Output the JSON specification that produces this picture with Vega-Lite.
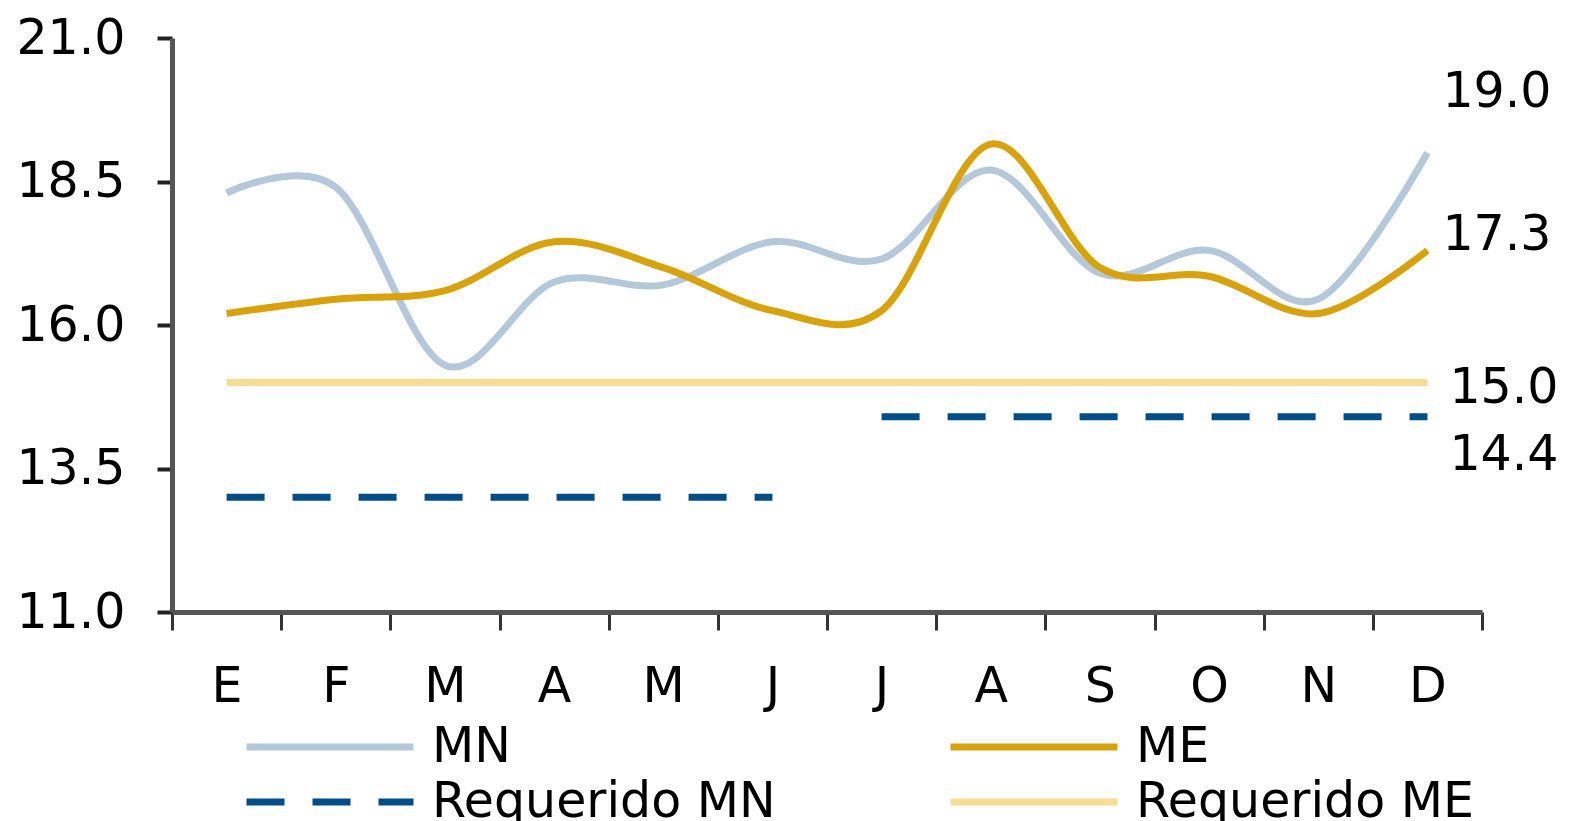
{
  "$schema": "https://vega.github.io/schema/vega-lite/v6.json",
  "width": 1310,
  "height": 574,
  "autosize": {"type": "none"},
  "padding": {"left": 172, "top": 38, "right": 91, "bottom": 209},
  "background": "white",
  "config": {
    "view": {"stroke": null},
    "font": "DejaVu Sans"
  },
  "data": {
    "values": [
      {"mes": "Ene", "serie": "MN", "valor": 18.3, "tramo": "a"},
      {"mes": "Feb", "serie": "MN", "valor": 18.4, "tramo": "a"},
      {"mes": "Mar", "serie": "MN", "valor": 15.3, "tramo": "a"},
      {"mes": "Abr", "serie": "MN", "valor": 16.75, "tramo": "a"},
      {"mes": "May", "serie": "MN", "valor": 16.7, "tramo": "a"},
      {"mes": "Jun", "serie": "MN", "valor": 17.45, "tramo": "a"},
      {"mes": "Jul", "serie": "MN", "valor": 17.15, "tramo": "a"},
      {"mes": "Ago", "serie": "MN", "valor": 18.7, "tramo": "a"},
      {"mes": "Sep", "serie": "MN", "valor": 16.9, "tramo": "a"},
      {"mes": "Oct", "serie": "MN", "valor": 17.3, "tramo": "a"},
      {"mes": "Nov", "serie": "MN", "valor": 16.45, "tramo": "a"},
      {"mes": "Dic", "serie": "MN", "valor": 19.0, "tramo": "a"},
      {"mes": "Ene", "serie": "ME", "valor": 16.2, "tramo": "a"},
      {"mes": "Feb", "serie": "ME", "valor": 16.45, "tramo": "a"},
      {"mes": "Mar", "serie": "ME", "valor": 16.6, "tramo": "a"},
      {"mes": "Abr", "serie": "ME", "valor": 17.45, "tramo": "a"},
      {"mes": "May", "serie": "ME", "valor": 17.0, "tramo": "a"},
      {"mes": "Jun", "serie": "ME", "valor": 16.25, "tramo": "a"},
      {"mes": "Jul", "serie": "ME", "valor": 16.25, "tramo": "a"},
      {"mes": "Ago", "serie": "ME", "valor": 19.15, "tramo": "a"},
      {"mes": "Sep", "serie": "ME", "valor": 17.0, "tramo": "a"},
      {"mes": "Oct", "serie": "ME", "valor": 16.85, "tramo": "a"},
      {"mes": "Nov", "serie": "ME", "valor": 16.2, "tramo": "a"},
      {"mes": "Dic", "serie": "ME", "valor": 17.3, "tramo": "a"},
      {"mes": "Ene", "serie": "Requerido MN", "valor": 13.0, "tramo": "a"},
      {"mes": "Feb", "serie": "Requerido MN", "valor": 13.0, "tramo": "a"},
      {"mes": "Mar", "serie": "Requerido MN", "valor": 13.0, "tramo": "a"},
      {"mes": "Abr", "serie": "Requerido MN", "valor": 13.0, "tramo": "a"},
      {"mes": "May", "serie": "Requerido MN", "valor": 13.0, "tramo": "a"},
      {"mes": "Jun", "serie": "Requerido MN", "valor": 13.0, "tramo": "a"},
      {"mes": "Jul", "serie": "Requerido MN", "valor": 14.4, "tramo": "b"},
      {"mes": "Ago", "serie": "Requerido MN", "valor": 14.4, "tramo": "b"},
      {"mes": "Sep", "serie": "Requerido MN", "valor": 14.4, "tramo": "b"},
      {"mes": "Oct", "serie": "Requerido MN", "valor": 14.4, "tramo": "b"},
      {"mes": "Nov", "serie": "Requerido MN", "valor": 14.4, "tramo": "b"},
      {"mes": "Dic", "serie": "Requerido MN", "valor": 14.4, "tramo": "b"},
      {"mes": "Ene", "serie": "Requerido ME", "valor": 15.0, "tramo": "a"},
      {"mes": "Feb", "serie": "Requerido ME", "valor": 15.0, "tramo": "a"},
      {"mes": "Mar", "serie": "Requerido ME", "valor": 15.0, "tramo": "a"},
      {"mes": "Abr", "serie": "Requerido ME", "valor": 15.0, "tramo": "a"},
      {"mes": "May", "serie": "Requerido ME", "valor": 15.0, "tramo": "a"},
      {"mes": "Jun", "serie": "Requerido ME", "valor": 15.0, "tramo": "a"},
      {"mes": "Jul", "serie": "Requerido ME", "valor": 15.0, "tramo": "a"},
      {"mes": "Ago", "serie": "Requerido ME", "valor": 15.0, "tramo": "a"},
      {"mes": "Sep", "serie": "Requerido ME", "valor": 15.0, "tramo": "a"},
      {"mes": "Oct", "serie": "Requerido ME", "valor": 15.0, "tramo": "a"},
      {"mes": "Nov", "serie": "Requerido ME", "valor": 15.0, "tramo": "a"},
      {"mes": "Dic", "serie": "Requerido ME", "valor": 15.0, "tramo": "a"}
    ]
  },
  "encoding": {
    "x": {
      "field": "mes",
      "type": "ordinal",
      "bandPosition": 0.5,
      "sort": ["Ene","Feb","Mar","Abr","May","Jun","Jul","Ago","Sep","Oct","Nov","Dic"],
      "scale": {"type": "band", "paddingInner": 0, "paddingOuter": 0},
      "axis": {
        "title": null,
        "labelExpr": "substring(datum.label, 0, 1)",
        "labelAngle": 0,
        "labelFontSize": 49,
        "labelColor": "#000000",
        "labelPadding": 32,
        "tickBand": "extent",
        "tickSize": 18,
        "tickWidth": 3,
        "tickColor": "#333333",
        "domainColor": "#555555",
        "domainWidth": 5,
        "grid": false
      }
    },
    "y": {
      "field": "valor",
      "type": "quantitative",
      "scale": {"domain": [11, 21], "zero": false, "nice": false},
      "axis": {
        "title": null,
        "values": [11, 13.5, 16, 18.5, 21],
        "format": ".1f",
        "labelFontSize": 49,
        "labelColor": "#000000",
        "labelPadding": 32,
        "tickSize": 15,
        "tickWidth": 4,
        "tickColor": "#222222",
        "domainColor": "#555555",
        "domainWidth": 5,
        "grid": false
      }
    }
  },
  "layer": [
    {
      "transform": [{"filter": "datum.serie == 'Requerido MN' || datum.serie == 'Requerido ME'"}],
      "mark": {"type": "line", "strokeWidth": 7, "strokeCap": "butt"},
      "encoding": {
        "stroke": {
          "field": "serie",
          "type": "nominal",
          "scale": {
            "domain": ["Requerido MN", "Requerido ME"],
            "range": ["#004D88", "#F8DC94"]
          },
          "legend": {
            "title": null,
            "orient": "none",
            "legendX": 71,
            "legendY": 677,
            "columns": 2,
            "direction": "horizontal",
            "columnPadding": 160,
            "symbolType": "stroke",
            "symbolSize": 27889,
            "symbolStrokeWidth": 7,
            "labelFontSize": 49,
            "labelColor": "#000000",
            "labelOffset": 15,
            "labelLimit": 0
          }
        },
        "strokeDash": {
          "field": "serie",
          "type": "nominal",
          "scale": {
            "domain": ["Requerido MN", "Requerido ME"],
            "range": [[38, 28], [1, 0]]
          },
          "legend": {
            "title": null,
            "orient": "none",
            "legendX": 71,
            "legendY": 677,
            "columns": 2,
            "direction": "horizontal",
            "columnPadding": 160,
            "symbolType": "stroke",
            "symbolSize": 27889,
            "symbolStrokeWidth": 7,
            "labelFontSize": 49,
            "labelColor": "#000000",
            "labelOffset": 15,
            "labelLimit": 0
          }
        },
        "detail": {"field": "tramo", "type": "nominal"}
      }
    },
    {
      "transform": [{"filter": "datum.serie == 'MN' || datum.serie == 'ME'"}],
      "mark": {"type": "line", "interpolate": "cardinal", "tension": 0, "strokeWidth": 7, "strokeCap": "butt"},
      "encoding": {
        "color": {
          "field": "serie",
          "type": "nominal",
          "scale": {
            "domain": ["MN", "ME"],
            "range": ["#B4C8DA", "#D8A20C"]
          },
          "legend": {
            "title": null,
            "orient": "none",
            "legendX": 71,
            "legendY": 622,
            "columns": 2,
            "direction": "horizontal",
            "columnPadding": 425,
            "symbolType": "stroke",
            "symbolSize": 27889,
            "symbolStrokeWidth": 7,
            "labelFontSize": 49,
            "labelColor": "#000000",
            "labelOffset": 15,
            "labelLimit": 0
          }
        }
      }
    },
    {
      "transform": [{"filter": "datum.mes == 'Dic' && datum.serie == 'MN'"}],
      "mark": {"type": "text", "align": "left", "baseline": "middle", "dx": 15, "dy": -61, "fontSize": 49, "color": "#000000"},
      "encoding": {"text": {"field": "valor", "type": "quantitative", "format": ".1f"}}
    },
    {
      "transform": [{"filter": "datum.mes == 'Dic' && datum.serie == 'ME'"}],
      "mark": {"type": "text", "align": "left", "baseline": "middle", "dx": 15, "dy": -15, "fontSize": 49, "color": "#000000"},
      "encoding": {"text": {"field": "valor", "type": "quantitative", "format": ".1f"}}
    },
    {
      "transform": [{"filter": "datum.mes == 'Dic' && datum.serie == 'Requerido ME'"}],
      "mark": {"type": "text", "align": "left", "baseline": "middle", "dx": 22, "dy": 6, "fontSize": 49, "color": "#000000"},
      "encoding": {"text": {"field": "valor", "type": "quantitative", "format": ".1f"}}
    },
    {
      "transform": [{"filter": "datum.mes == 'Dic' && datum.serie == 'Requerido MN'"}],
      "mark": {"type": "text", "align": "left", "baseline": "middle", "dx": 22, "dy": 38, "fontSize": 49, "color": "#000000"},
      "encoding": {"text": {"field": "valor", "type": "quantitative", "format": ".1f"}}
    }
  ]
}
